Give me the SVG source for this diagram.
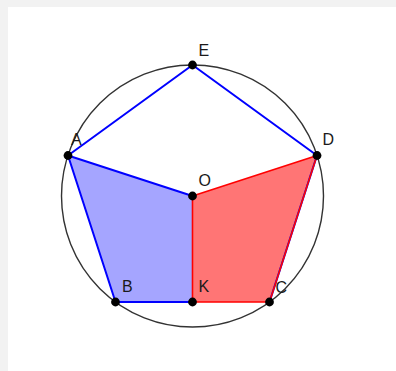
<svg xmlns="http://www.w3.org/2000/svg" width="396" height="371" viewBox="0 0 396 371">
<style>
.lbl{font-family:"Liberation Sans",Arial,sans-serif;font-size:16px;fill:#1a1a1a}
.pt{fill:#000}
.blue{stroke:#0000ff;stroke-width:2;fill:none;stroke-linecap:round}
.red{stroke:#ff0000;stroke-width:1.6;fill:none;stroke-linecap:round}
</style>
<rect x="0" y="0" width="396" height="371" fill="#f2f2f2"/>
<rect x="8" y="7" width="388" height="364" fill="#ffffff"/>
<g id="fills">
<polygon points="68,155.5 192.5,196 192.5,302 115.5,302" fill="#a5a5ff"/>
<polygon points="192.5,196 317,155.5 269.5,302 192.5,302" fill="#ff7575"/>
</g>
<circle id="circle" cx="192.5" cy="196" r="131" fill="none" stroke="#333" stroke-width="1.4"/>
<g id="connectors">
<line class="blue" x1="68" y1="155.5" x2="192.5" y2="65"/>
<line class="blue" x1="192.5" y1="65" x2="317" y2="155.5"/>
<line class="blue" x1="68" y1="155.5" x2="192.5" y2="196"/>
<line class="blue" x1="68" y1="155.5" x2="115.5" y2="302"/>
<line class="blue" x1="115.5" y1="302" x2="192.5" y2="302"/>
<line class="blue" x1="317" y1="155.5" x2="269.5" y2="302"/>
<line class="red" x1="317" y1="155.5" x2="269.5" y2="302"/>
<line class="red" x1="192.5" y1="196" x2="317" y2="155.5"/>
<line class="red" x1="192.5" y1="196" x2="192.5" y2="302"/>
<line class="red" x1="192.5" y1="302" x2="269.5" y2="302"/>
</g>
<g id="E"><circle class="pt" cx="192.5" cy="65" r="4.4"/><text class="lbl" x="198.5" y="56">E</text></g>
<g id="A"><circle class="pt" cx="68" cy="155.5" r="4.4"/><text class="lbl" x="71" y="144.5">A</text></g>
<g id="D"><circle class="pt" cx="317" cy="155.5" r="4.4"/><text class="lbl" x="322.5" y="145">D</text></g>
<g id="O"><circle class="pt" cx="192.5" cy="196" r="4.4"/><text class="lbl" x="198.5" y="185.5">O</text></g>
<g id="B"><circle class="pt" cx="115.5" cy="302" r="4.4"/><text class="lbl" x="122" y="292">B</text></g>
<g id="K"><circle class="pt" cx="192.5" cy="302" r="4.4"/><text class="lbl" x="198.5" y="292">K</text></g>
<g id="C"><circle class="pt" cx="269.5" cy="302" r="4.4"/><text class="lbl" x="275.5" y="292.5">C</text></g>
</svg>
